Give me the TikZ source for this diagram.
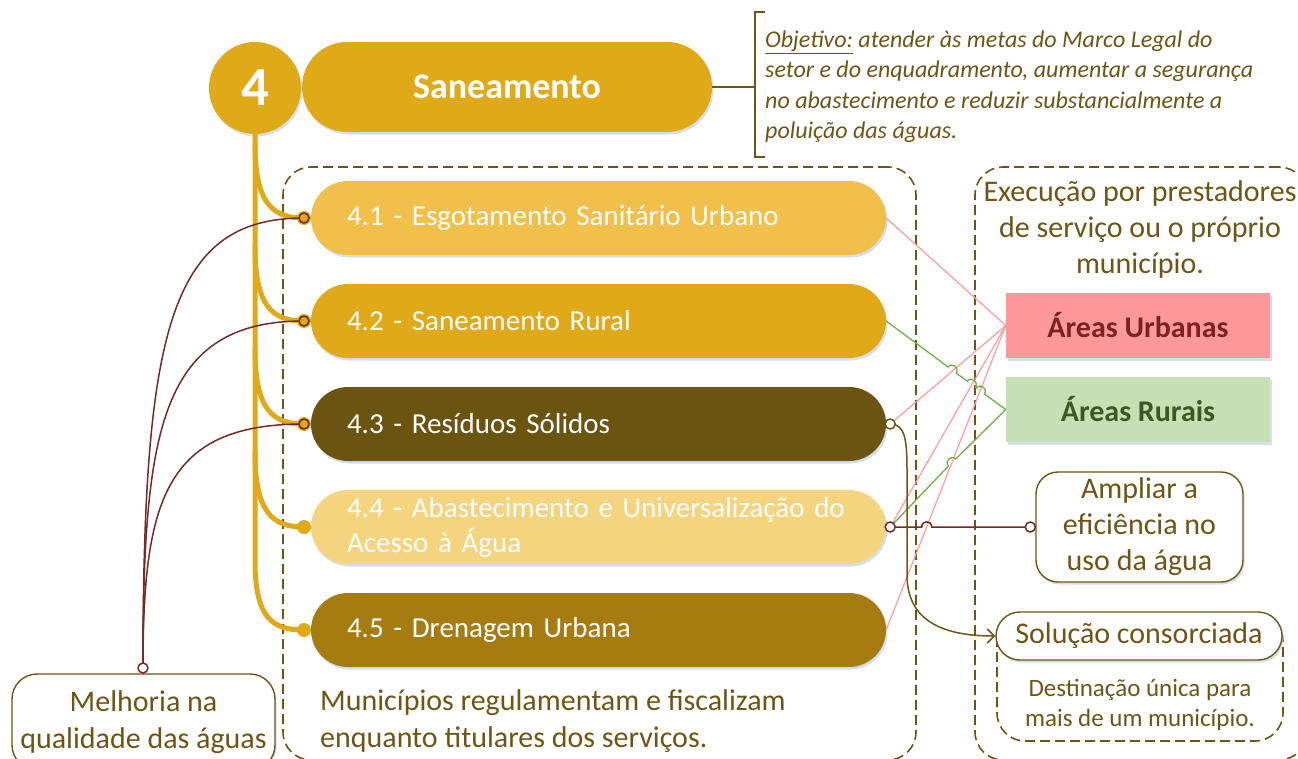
\documentclass[tikz,border=0pt]{standalone}
\usepackage{fontspec}
\setmainfont{Carlito}
\usetikzlibrary{arrows.meta,calc,shadows}
\definecolor{gold}{HTML}{E0A917}
\definecolor{gold1}{HTML}{F0C04A}
\definecolor{brown3}{HTML}{6B5310}
\definecolor{pale4}{HTML}{F4D47E}
\definecolor{ochre5}{HTML}{A67C11}
\definecolor{txtbrown}{HTML}{6E5516}
\definecolor{darkred}{HTML}{722B24}
\definecolor{pinkl}{HTML}{FF9A9A}
\definecolor{greenl}{HTML}{70AD47}
\definecolor{urbfill}{HTML}{FF9999}
\definecolor{urbtext}{HTML}{7A2323}
\definecolor{rurfill}{HTML}{C5E0B4}
\definecolor{rurtext}{HTML}{3B5A20}
\definecolor{shadowc}{HTML}{C9D6E8}
\newcommand\fsz[2]{\fontsize{#1}{#2}\selectfont}
\tikzset{
  shad/.style={drop shadow={shadow xshift=1.5pt, shadow yshift=-2.5pt, fill=shadowc, opacity=0.8}},
  item/.style={rectangle, rounded corners=37pt, minimum width=575pt, minimum height=74pt,
    inner xsep=36pt, inner ysep=0pt, text width=503pt, align=left, text=white,
    font=\fsz{29}{35}, shad},
  dbox/.style={draw=txtbrown, dash pattern=on 10pt off 5pt, line width=1.6pt, rounded corners=28pt},
  trunk/.style={draw=gold, line width=5pt},
  brline/.style={draw=txtbrown, line width=1.5pt},
  redline/.style={draw=darkred, line width=1.5pt},
  pinkline/.style={draw=pinkl, line width=1.2pt},
  greenline/.style={draw=greenl, line width=1.3pt},
  txt/.style={text=txtbrown, inner sep=0pt},
  openmark/.style={fill=white, line width=1.5pt},
}
\begin{document}
\begin{tikzpicture}[x=1pt,y=-1pt]
\useasboundingbox (0,0) rectangle (1298,758);

% dashed boxes
\node[dbox, minimum width=633pt, minimum height=593pt] (box1) at (599.5,463.5) {};
\node[dbox, minimum width=332pt, minimum height=593pt] (box2) at (1141,463.5) {};
\node[dbox, minimum width=286pt, minimum height=128pt] (solbox) at (1140,677) {};

% header
\node[circle, fill=gold, minimum size=92pt, inner sep=0pt, text=white, font=\bfseries\fsz{55}{55}, shad] (n4) at (255,88) {4};
\node[rectangle, rounded corners=45pt, fill=gold, minimum width=410pt, minimum height=90pt, text=white, font=\bfseries\fsz{36}{36}, shad] (san) at (507,87) {Saneamento};
\coordinate (br) at (755,87);
\draw[brline] (san.east) -- (br);
\draw[brline] (765,12) -- (755,12) -- (755,157) -- (765,157);
\node[txt, anchor=north west, align=left, font=\itshape\fsz{24}{30.5}] (obj) at (765,30.5)
 {\underline{Objetivo:} atender às metas do Marco Legal do\\
  setor e do enquadramento, aumentar a segurança\\
  no abastecimento e reduzir substancialmente a\\
  poluição das águas.};

% items
\node[item, fill=gold1] (i1) at (598.5,218) {4.1 - Esgotamento Sanitário Urbano};
\node[item, fill=gold] (i2) at (598.5,321) {4.2 - Saneamento Rural};
\node[item, fill=brown3] (i3) at (598.5,424) {4.3 - Resíduos Sólidos};
\node[item, fill=pale4] (i4) at (598.5,527) {4.4 - Abastecimento e Universalização do\\Acesso à Água};
\node[item, fill=ochre5] (i5) at (598.5,630) {4.5 - Drenagem Urbana};

\coordinate (d1) at (304,218);
\coordinate (d2) at (304,321);
\coordinate (d3) at (304,424);
\coordinate (d4) at (304,527);
\coordinate (d5) at (304,630);

% trunk and branches
\draw[trunk] (n4.south) -- (255,560) .. controls (255,618) and (272,630) .. (d5);
\draw[trunk] (255,143) .. controls (255,203) and (272,218) .. (d1);
\draw[trunk] (255,246) .. controls (255,306) and (272,321) .. (d2);
\draw[trunk] (255,349) .. controls (255,409) and (272,424) .. (d3);
\draw[trunk] (255,452) .. controls (255,512) and (272,527) .. (d4);
\foreach \d in {d1,d2,d3,d4,d5} \fill[gold] (\d) circle (7);

% boxes on the left/bottom
\node[rectangle, draw=txtbrown, line width=1.4pt, rounded corners=25pt, fill=white, minimum width=263pt, minimum height=96pt, align=center, text=txtbrown, font=\fsz{30}{37}, shad] (mel) at (143.5,722) {Melhoria na\\qualidade das águas};
\coordinate (mtop) at (143,668);
\draw[redline] (mtop) .. controls (143,330) and (170,218) .. (d1);
\draw[redline] (mtop) .. controls (143,430) and (160,321) .. (d2);
\draw[redline] (mtop) .. controls (143,500) and (165,424) .. (d3);
\foreach \d in {d1,d2,d3} \draw[darkred, fill=gold, line width=1.5pt] (\d) circle (5);
\draw[darkred, openmark] (mtop) circle (5);

\node[txt, anchor=west, align=left, font=\fsz{30}{37}] (munt) at (320,721.5) {Municípios regulamentam e fiscalizam\\enquanto titulares dos serviços.};

% right side
\node[txt, align=center, font=\fsz{30}{36}] (exec) at (1140,229) {Execução por prestadores\\de serviço ou o próprio\\município.};
\node[rectangle, fill=urbfill, minimum width=264pt, minimum height=65pt, text=urbtext, font=\bfseries\fsz{30}{30}, shad] (urb) at (1138,325.5) {Áreas Urbanas};
\node[rectangle, fill=rurfill, minimum width=264pt, minimum height=65pt, text=rurtext, font=\bfseries\fsz{30}{30}, shad] (rur) at (1138,409.5) {Áreas Rurais};
\node[rectangle, draw=txtbrown, line width=1.4pt, rounded corners=22pt, fill=white, minimum width=207pt, minimum height=110pt, align=center, text=txtbrown, font=\fsz{30}{36}, shad] (amp) at (1139.5,527) {Ampliar a\\eficiência no\\uso da água};
\node[rectangle, draw=txtbrown, line width=1.4pt, rounded corners=24pt, fill=white, minimum width=286pt, minimum height=48pt, text=txtbrown, font=\fsz{30}{30}, shad] (sol) at (1139,636) {Solução consorciada};
\node[txt, align=center, font=\fsz{25}{30}] (dest) at (1140,705) {Destinação única para\\mais de um município.};

% connectors
\coordinate (e3) at ($(i3.east)+(4,0)$);
\coordinate (e4) at ($(i4.east)+(4,0)$);
\coordinate (aw) at ($(amp.west)+(-5,0)$);

\draw[pinkline] (i1.east) -- (urb.west);
\draw[pinkline] (e3) -- (urb.west);
\draw[pinkline] (e4) -- (urb.west);
\draw[pinkline] (i5.east) -- (urb.west);

\draw[greenline] (i2.east) -- (948.1,367.0) .. controls (952.0,361.8) and (960.0,367.8) .. (956.1,373.0)
  -- (967.2,381.2) .. controls (971.1,376.0) and (979.1,382.0) .. (975.2,387.2)
  -- (976.3,388.0) .. controls (980.2,382.8) and (988.2,388.8) .. (984.3,394.0) -- (rur.west);
\draw[greenline] (e4) -- (948.5,466.0) .. controls (944.0,461.3) and (951.2,454.3) .. (955.7,459.0) -- (rur.west);

\draw[redline] (e4) -- (921.7,527) .. controls (921.7,520) and (931.7,520) .. (931.7,527) -- (aw);

\draw[brline, -{Straight Barb[length=7pt, width=14pt]}] (e3) .. controls (905,424) and (907,440) .. (907,470) -- (907,575) .. controls (907,625) and (950,636) .. (sol.west);

\draw[txtbrown, openmark] (e3) circle (5);
\draw[darkred, openmark] (e4) circle (5);
\draw[darkred, openmark] (aw) circle (5);
\end{tikzpicture}
\end{document}
